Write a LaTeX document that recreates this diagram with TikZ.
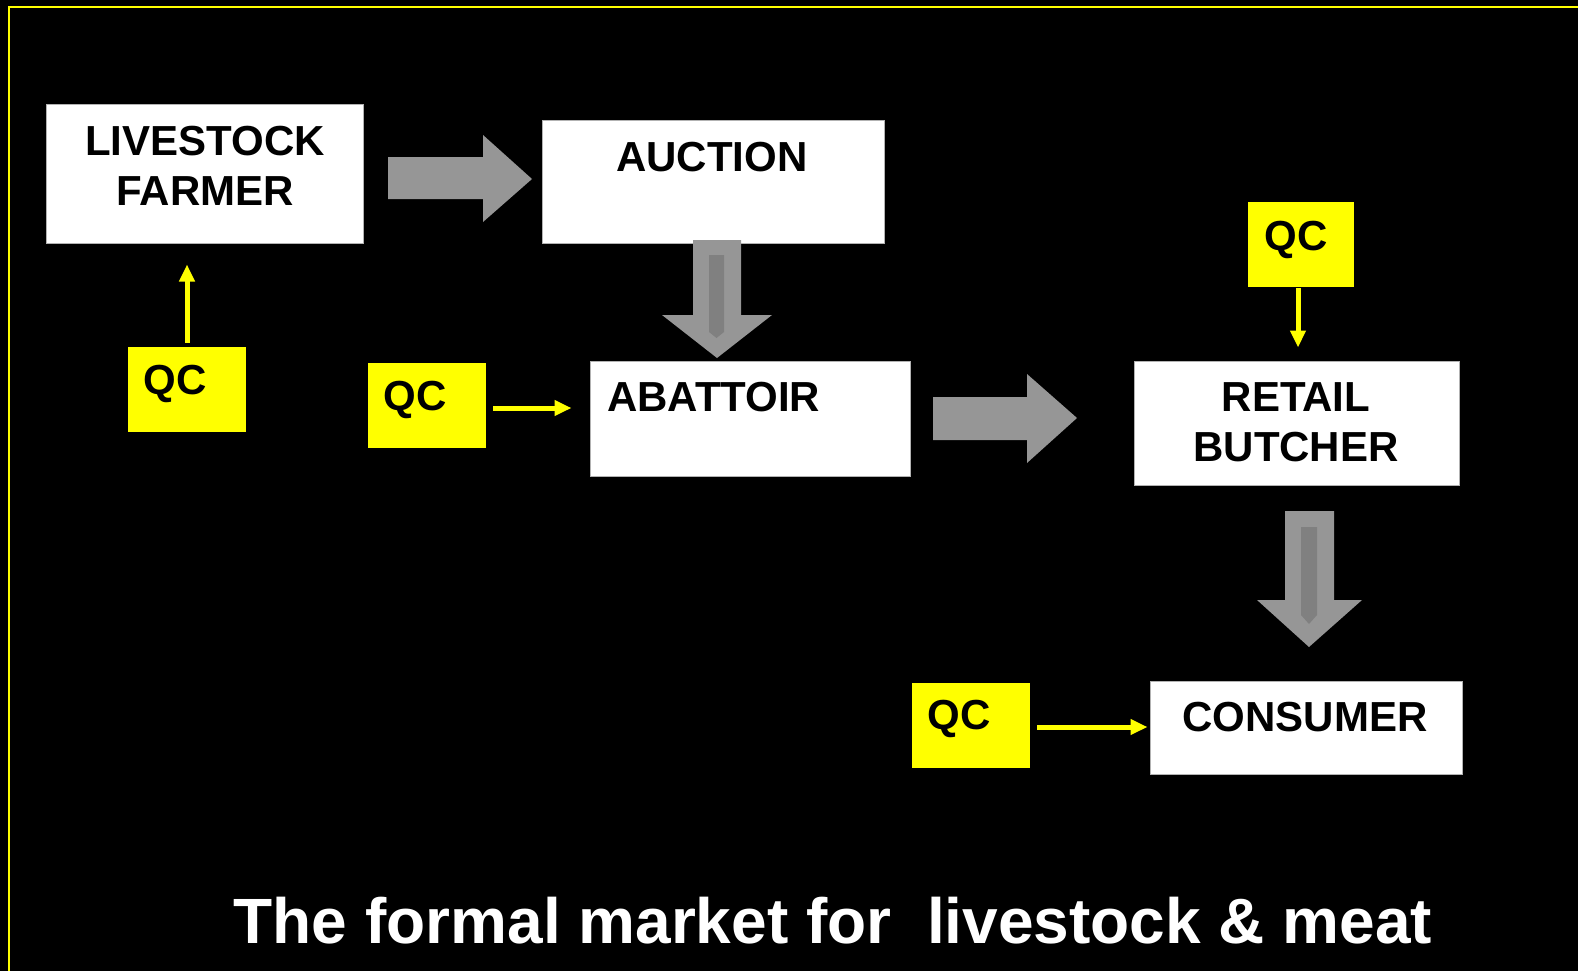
\documentclass[tikz,border=0pt]{standalone}
\usepackage{fontspec}
\setmainfont{Liberation Sans}
\usetikzlibrary{arrows.meta,calc}
\definecolor{ygold}{RGB}{255,255,0}
\definecolor{garrow}{RGB}{150,150,150}
\definecolor{ginner}{RGB}{128,128,128}
\tikzset{
  wbox/.style={fill=white, draw=gray!60, line width=1pt, inner sep=0pt},
  qbox/.style={fill=ygold, draw=none, inner sep=0pt},
  lbl/.style={font=\fontsize{42}{50}\selectfont\bfseries, text=black, inner sep=0pt, align=center},
  yarr/.style={draw=ygold, line width=5pt, -{Triangle[length=17pt,width=15pt]}},
  garr/.style={fill=garrow, draw=none},
  ginn/.style={fill=ginner, draw=none}
}
\begin{document}
\begin{tikzpicture}[x=1pt,y=-1pt]
\fill[black] (0,0) rectangle (1578,971);
\useasboundingbox (0,0) rectangle (1578,971);
\draw[ygold, line width=2.5pt] (9,971) -- (9,7) -- (1578,7);

% boxes
\node[wbox, minimum width=317pt, minimum height=138pt] (farmer) at (204.5,174) {};
\node[wbox, minimum width=342pt, minimum height=122pt] (auction) at (713,182) {};
\node[wbox, minimum width=320pt, minimum height=115pt] (abattoir) at (750,418.5) {};
\node[wbox, minimum width=325pt, minimum height=124pt] (retail) at (1296.5,423) {};
\node[wbox, minimum width=312pt, minimum height=93pt] (consumer) at (1306,727.5) {};
\node[qbox, minimum width=118pt, minimum height=85pt] (qc1) at (187,389.5) {};
\node[qbox, minimum width=118pt, minimum height=85pt] (qc2) at (427,405.5) {};
\node[qbox, minimum width=106pt, minimum height=85pt] (qc3) at (1301,244.5) {};
\node[qbox, minimum width=118pt, minimum height=85pt] (qc4) at (971,725.5) {};

% labels
\node[lbl] (farmerT) at (205,166) {LIVESTOCK\\FARMER};
\node[lbl] (auctionT) at (712,157) {AUCTION};
\node[lbl, anchor=west] (abattoirT) at (607,397) {ABATTOIR};
\node[lbl] (retailT) at (1296,422) {RETAIL\\BUTCHER};
\node[lbl] (consumerT) at (1305,717) {CONSUMER};
\node[lbl] (qc1T) at (175,384) {QC};
\node[lbl] (qc2T) at (415,400) {QC};
\node[lbl] (qc3T) at (1296,240) {QC};
\node[lbl] (qc4T) at (959,719) {QC};

% gray block arrows
\path[garr] (388,157) -- (483,157) -- (483,135) -- (532,179) -- (483,222) -- (483,199) -- (388,199) -- cycle;
\path[garr] (693,240) -- (741,240) -- (741,315) -- (772,315) -- (717,358) -- (662,315) -- (693,315) -- cycle;
\path[ginn] (709,255) -- (724,255) -- (724,332) -- (716.5,338) -- (709,332) -- cycle;
\path[garr] (933,397) -- (1027,397) -- (1027,374) -- (1077,418) -- (1027,463) -- (1027,440) -- (933,440) -- cycle;
\path[garr] (1285,511) -- (1334,511) -- (1334,600) -- (1362,600) -- (1309,647) -- (1257,600) -- (1285,600) -- cycle;
\path[ginn] (1301,527) -- (1317,527) -- (1317,615) -- (1309,624) -- (1301,615) -- cycle;

% yellow connectors
\draw[yarr, shorten <=4pt, shorten >=21pt] (qc1.north) -- (qc1.north |- farmer.south);
\draw[yarr, shorten <=7pt, shorten >=18pt] ($(qc2.east)+(0,2.5)$) -- ($(qc2.east -| abattoir.west)+(0,2.5)$);
\draw[yarr, shorten <=1pt, shorten >=13pt] ($(qc3.south)+(-3,0)$) -- ($(qc3.south |- retail.north)+(-3,0)$);
\draw[yarr, shorten <=7pt, shorten >=2pt] ($(qc4.east)+(0,1.5)$) -- ($(qc4.east -| consumer.west)+(0,1.5)$);

% title
\node[font=\fontsize{64}{74}\selectfont\bfseries, text=white, inner sep=0pt] (title) at (833,921) {The formal market for\ \ livestock \& meat};
\end{tikzpicture}
\end{document}
